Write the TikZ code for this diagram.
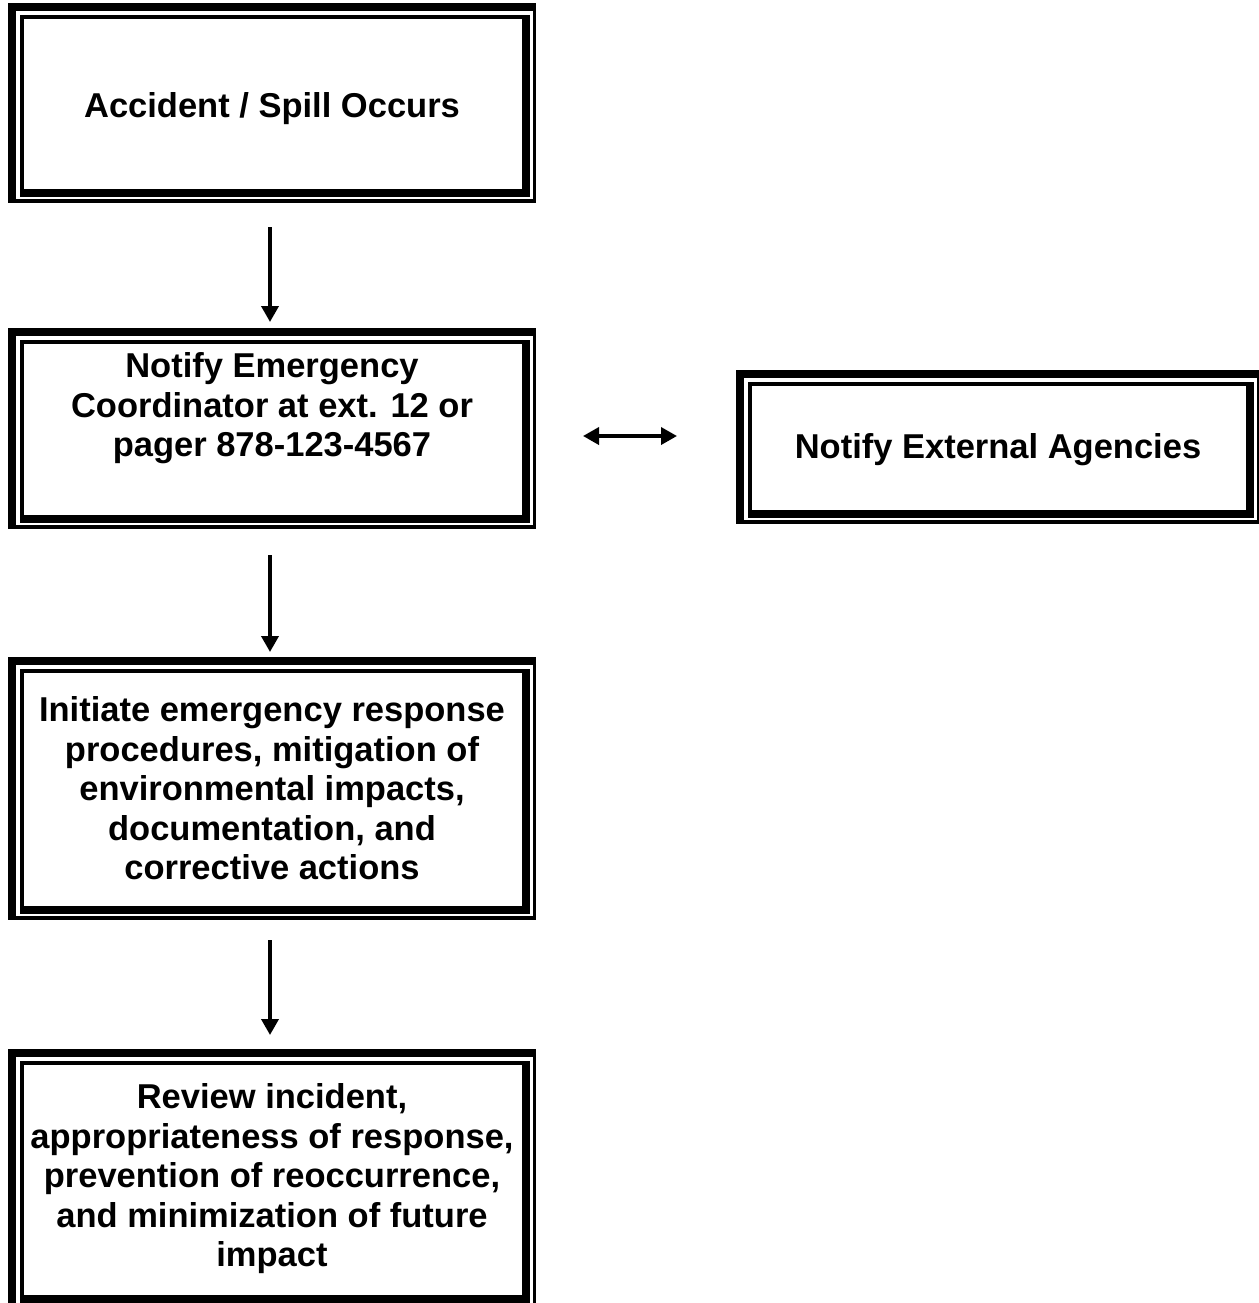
\documentclass[tikz,border=0pt]{standalone}
\usepackage{fontspec}
\setmainfont{Liberation Sans}
\usetikzlibrary{calc}
\usetikzlibrary{positioning}
\usetikzlibrary{arrows.meta}

% thick-thin double frame round a node
\newcommand{\dframe}[1]{%
	\fill (#1.north west) rectangle ($(#1.north east)+(0,8)$);
	\fill (#1.north west) rectangle ($(#1.south west)+(8,0)$);
	\fill ($(#1.north east)+(-3.5,0)$) rectangle (#1.south east);
	\fill ($(#1.south west)+(0,-4)$) rectangle (#1.south east);
	\fill ($(#1.north west)+(12,12)$) rectangle ($(#1.north east)+(-6,16)$);
	\fill ($(#1.north west)+(12,12)$) rectangle ($(#1.south west)+(16,-6)$);
	\fill ($(#1.north east)+(-14,12)$) rectangle ($(#1.south east)+(-6,-6)$);
	\fill ($(#1.south west)+(12,-14)$) rectangle ($(#1.south east)+(-6,-6)$);
}

\tikzset{
	stepbox/.style={rectangle,inner sep=0pt,outer sep=0pt,align=center,
		minimum width=264pt,
		font=\bfseries\fontsize{17.25}{19.75}\selectfont},
	flow/.style={line width=1.8pt,-{Triangle[length=8pt,width=8.5pt]}},
	dflow/.style={line width=1.8pt,{Triangle[length=8pt,width=8.5pt]}-{Triangle[length=8pt,width=8.5pt]}}
}

\begin{document}
\begin{tikzpicture}[x=0.5pt,y=-0.5pt]
	\useasboundingbox (0,0) rectangle (1259,1303);

	\node [stepbox,minimum height=100pt,text height=17.6pt,text depth=3.6pt] (accident) at (272,103) {Accident / Spill Occurs};
	\node [stepbox,minimum height=100.5pt] (notify) at (272,428.5) {Notify Emergency\\Coordinator at ext. 12 or\\pager 878-123-4567\\[4pt]\phantom{x}};
	\node [stepbox,minimum height=131.5pt] (initiate) at (272,788.5) {Initiate emergency response\\procedures, mitigation of\\environmental impacts,\\documentation, and\\corrective actions};
	\node [stepbox,minimum height=130pt] (review) at (272,1179) {Review incident,\\appropriateness of response,\\prevention of reoccurrence,\\and minimization of future\\impact};
	\node [stepbox,minimum width=262pt,minimum height=77pt,text height=14.6pt,text depth=3.6pt] (external) at (998,447) {Notify External Agencies};

	\dframe{accident}
	\dframe{notify}
	\dframe{initiate}
	\dframe{review}
	\dframe{external}

	\draw[flow,shorten <=12pt,shorten >=3pt] ([xshift=-1pt]accident.south) -- ([xshift=-1pt]notify.north);
	\draw[flow,shorten <=13pt,shorten >=2.5pt] ([xshift=-1pt]notify.south) -- ([xshift=-1pt]initiate.north);
	\draw[flow,shorten <=10pt,shorten >=7pt] ([xshift=-1pt]initiate.south) -- ([xshift=-1pt]review.north);

	\draw[dflow,shorten <=23.5pt,shorten >=29.5pt] ([yshift=-3.75pt]notify.east) -- ([yshift=5.5pt]external.west);
\end{tikzpicture}
\end{document}
